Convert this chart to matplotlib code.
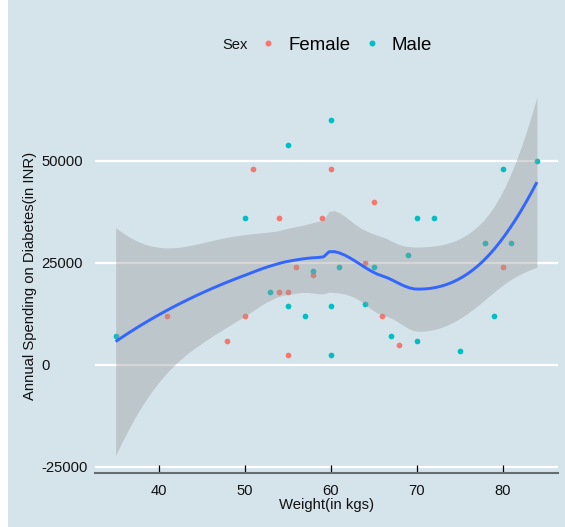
import numpy as np
import matplotlib
matplotlib.use("Agg")
import matplotlib.pyplot as plt
from matplotlib.lines import Line2D
from matplotlib.patches import Rectangle

# ---- data -------------------------------------------------------------
female_weight = [41, 48, 50, 51, 54, 54, 55, 55, 56, 58, 59, 60, 64, 65, 66, 68, 80]
female_spend = [12000, 6000, 12000, 48000, 36000, 18000, 18000, 2500, 24000,
                22000, 36000, 48000, 25000, 40000, 12000, 5000, 24000]
male_weight = [35, 50, 53, 55, 55, 57, 58, 60, 60, 60, 61, 64, 65, 67, 69, 70,
               70, 72, 75, 78, 79, 80, 81, 84]
male_spend = [7000, 36000, 18000, 54000, 14500, 12000, 23000, 60000, 14500, 2500,
              24000, 15000, 24000, 7000, 27000, 36000, 6000, 36000, 3500, 30000,
              12000, 48000, 30000, 50000]
x_ticks = [40, 50, 60, 70, 80]
y_ticks = [-25000, 0, 25000, 50000]

FEMALE_COL = "#F8766D"
MALE_COL = "#00BFC4"
BG = "#d5e4eb"


# ---- loess (degree 2, span 0.75, kd-tree vertices + cubic Hermite) -----
def local_rows(x, x0, q):
    d = np.abs(x - x0)
    rho = np.sort(d)[q - 1]
    u = np.clip(d / rho, 0, 1)
    w = (1 - u ** 3) ** 3
    dx = x - x0
    X = np.column_stack([np.ones_like(x), dx, dx ** 2])
    A = X.T @ (w[:, None] * X)
    B = np.linalg.pinv(A) @ (X.T * w)
    return B[0], B[1]


def kd_vertices(x, fc):
    xs = np.sort(x)
    n = len(xs)
    lo, hi = xs[0], xs[-1]
    mu = 0.005 * max(hi - lo, 1e-10 * max(abs(lo), abs(hi)) + 1e-30)
    verts = [lo - mu, hi + mu]

    def split(l, u, vlo, vhi):
        if u - l + 1 <= fc:
            return
        m = (l + 1 + u + 1) // 2 - 1
        off = 0
        while (m + off) < u and (m + off) >= l:
            if xs[m + off] == xs[m + off + 1]:
                off = -off
                if off >= 0:
                    off += 1
            else:
                m = m + off
                break
        if vlo == xs[m] or vhi == xs[m]:
            return
        verts.append(xs[m])
        split(l, m, vlo, xs[m])
        split(m + 1, u, xs[m], vhi)

    split(0, n - 1, verts[0], verts[1])
    return np.sort(np.array(verts))


def loess_operator(x, xe, span=0.75, cell=0.2):
    n = len(x)
    q = int(np.floor(n * span))
    fc = int(np.floor(n * span * cell))
    v = kd_vertices(x, fc)
    vals, slopes = [], []
    for vv in v:
        r0, r1 = local_rows(x, vv, q)
        vals.append(r0)
        slopes.append(r1)
    vals = np.array(vals)
    slopes = np.array(slopes)
    L = np.zeros((len(xe), n))
    for i, x0 in enumerate(xe):
        k = np.searchsorted(v, x0, side="right") - 1
        k = min(max(k, 0), len(v) - 2)
        h = v[k + 1] - v[k]
        t = (x0 - v[k]) / h
        phi0 = (1 - t) ** 2 * (1 + 2 * t)
        phi1 = t ** 2 * (3 - 2 * t)
        psi0 = t * (1 - t) ** 2
        psi1 = -t ** 2 * (1 - t)
        L[i] = (phi0 * vals[k] + phi1 * vals[k + 1]
                + (psi0 * slopes[k] + psi1 * slopes[k + 1]) * h)
    return L


def t_quantile_975(df):
    # Cornish-Fisher expansion of the Student t 97.5% quantile
    z = 1.959963984540054
    g1 = (z ** 3 + z) / 4
    g2 = (5 * z ** 5 + 16 * z ** 3 + 3 * z) / 96
    g3 = (3 * z ** 7 + 19 * z ** 5 + 17 * z ** 3 - 15 * z) / 384
    g4 = (79 * z ** 9 + 776 * z ** 7 + 1482 * z ** 5 - 1920 * z ** 3 - 945 * z) / 92160
    return z + g1 / df + g2 / df ** 2 + g3 / df ** 3 + g4 / df ** 4


wx = np.array(female_weight + male_weight, dtype=float)
sy = np.array(female_spend + male_spend, dtype=float)

L_data = loess_operator(wx, wx)
resid = sy - L_data @ sy
M = (np.eye(len(wx)) - L_data)
M = M.T @ M
delta1 = np.trace(M)
delta2 = np.trace(M @ M)
sigma = np.sqrt(np.sum(resid ** 2) / delta1)
dfree = delta1 ** 2 / delta2

grid = np.linspace(wx.min(), wx.max(), 80)
L_grid = loess_operator(wx, grid)
fit = L_grid @ sy
se = sigma * np.sqrt(np.sum(L_grid ** 2, axis=1))
tq = t_quantile_975(dfree)
lower = fit - tq * se
upper = fit + tq * se

# ---- limits (5% expansion like ggplot) ---------------------------------
xlo, xhi = wx.min(), wx.max()
xpad = 0.05 * (xhi - xlo)
ylo = min(lower.min(), sy.min())
yhi = max(upper.max(), sy.max())
ypad = 0.05 * (yhi - ylo)
ylim = (ylo - ypad, yhi + ypad)

# ---- figure ------------------------------------------------------------
W, H = 565, 527
plt.rcParams["font.family"] = ["Liberation Sans", "DejaVu Sans"]
fig = plt.figure(figsize=(W / 100, H / 100), dpi=100, facecolor=BG)

# panel placement in pixels: y = 0 sits at 365 px, 50000 at 161 px from top
px_per_val = 204 / 50000
bottom_px = 365 + (0 - ylim[0]) * px_per_val
top_px = 365 - ylim[1] * px_per_val
left_px, right_px = 94.6, 558.0
panel_w = right_px - left_px
ax = fig.add_axes([left_px / W, (H - bottom_px) / H,
                   panel_w / W, (bottom_px - top_px) / H])
ax.set_facecolor(BG)
ax.set_xlim(xlo - xpad, xhi + xpad)
ax.set_ylim(*ylim)

for yv in y_ticks:
    ax.axhline(yv, color="white", lw=1.6, zorder=1)

ax.scatter(female_weight, female_spend, s=17, color=FEMALE_COL, lw=0, zorder=2)
ax.scatter(male_weight, male_spend, s=17, color=MALE_COL, lw=0, zorder=2)

ax.fill_between(grid, lower, upper, color="#999999", alpha=0.4, lw=0, zorder=3)
ax.plot(grid, fit, color="#3366FF", lw=2.1, zorder=4, solid_capstyle="butt")

for side in ("top", "right", "left"):
    ax.spines[side].set_visible(False)
ax.spines["bottom"].set_color("#666e72")
ax.spines["bottom"].set_linewidth(1.5)
ax.spines["bottom"].set_zorder(5)

ax.set_xticks(x_ticks)
ax.set_yticks(y_ticks)
ax.set_yticklabels([str(v) for v in y_ticks])
ax.tick_params(axis="x", direction="in", length=5.5, width=0.9, color="black",
               labelsize=10.6, pad=7.5, labelcolor="#111111")
# y tick labels are left-justified in a column starting ~53 px left of the panel
ax.tick_params(axis="y", length=0, labelsize=10.6, pad=(left_px - 41.2) * 0.72,
               labelcolor="#111111")
for lab in ax.get_yticklabels():
    lab.set_horizontalalignment("left")

ax.set_xlabel("Weight(in kgs)", fontsize=10.7, color="#111111", labelpad=0.5)
ax.set_ylabel("Annual Spending on Diabetes(in INR)", fontsize=10.7,
              color="#111111")
ax.yaxis.set_label_coords((37.3 - left_px) / panel_w, 0.5)

# legend across the top
fig.text(222.5 / W, 1 - 45 / H, "Sex", fontsize=10.6, color="#111111",
         ha="left", va="center")
handles = [Line2D([], [], ls="none", marker="o", ms=4.3, mec="none",
                  mfc=FEMALE_COL, label="Female"),
           Line2D([], [], ls="none", marker="o", ms=4.3, mec="none",
                  mfc=MALE_COL, label="Male")]
fig.legend(handles=handles, loc="center left",
           bbox_to_anchor=(262.6 / W, 1 - 45 / H), ncol=2, frameon=False,
           fontsize=13.4, handlelength=0.6, handletextpad=0.78,
           columnspacing=0.85, borderpad=0, borderaxespad=0)

# white strip down the left edge
fig.patches.append(Rectangle((0, 0), 8 / W, 1, transform=fig.transFigure,
                             facecolor="white", edgecolor="none", zorder=10))

fig.savefig("out.png", dpi=100, facecolor=BG)
